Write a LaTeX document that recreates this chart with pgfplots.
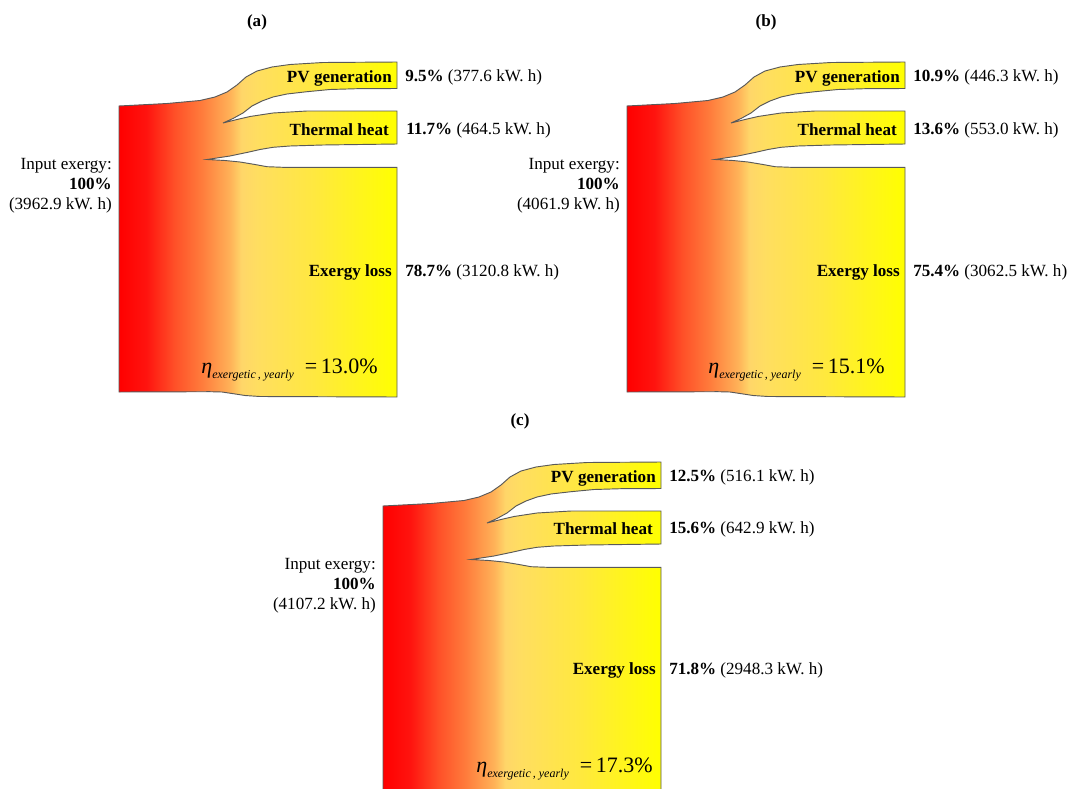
\documentclass[border=0pt]{standalone}
\usepackage{fontspec}
\setmainfont{Liberation Serif}
\usepackage{pgfplots}
\usepackage{pgfplotstable}
\pgfplotsset{compat=1.18}
\pgfplotstableread{
x y
119 250
119 106
167 103.5
200 100.5
215 97
227 92
237 85
246 77
257 71
272 67
290 64.5
323 62.5
397 62
397 88.5
357 88.7
330 89.5
307 91.7
287 94
273 97
262 101
252 106
243 113
233 118.5
223 123
237 119.5
250 116.5
273 113
307 111
397 111
397 144
323 145
290 146
273 147.3
260 149.5
250 151.8
230 156
207 159.5
225 160.5
240 162
255 164.5
267 166.7
283 167.3
397 167.3
397 397
260 396.5
245 395.5
232 393.5
222 392
210 391.7
119 392
119 250
}\shape
\definecolor{s1}{RGB}{255,20,15}
\definecolor{s2}{RGB}{255,80,40}
\definecolor{s3}{RGB}{255,125,60}
\definecolor{s4}{RGB}{255,178,88}
\definecolor{s5}{RGB}{255,214,105}
\definecolor{s6}{RGB}{255,222,96}
\definecolor{s7}{RGB}{255,232,64}
\pgfdeclarehorizontalshading{sankey}{100bp}{color(0bp)=(red); color(25bp)=(red); color(30bp)=(s1); color(35bp)=(s2); color(40bp)=(s3); color(45bp)=(s4); color(47bp)=(s5); color(50bp)=(s6); color(60bp)=(s7); color(75bp)=(yellow); color(100bp)=(yellow)}
\newcommand{\nf}{\fontsize{12.8}{15}\selectfont}
\newcommand{\etalabel}[1]{\fontsize{16.5}{18}\selectfont\textit{η}\raisebox{-0.5ex}{\fontsize{9}{11}\selectfont\textit{exergetic\,, yearly}}\,\,\,=\,#1}
\begin{document}
\begin{tikzpicture}[every node/.style={inner sep=0pt}]
\begin{axis}[x=0.75pt, y=0.75pt, xmin=0, xmax=1068, ymin=0, ymax=789, y dir=reverse,
  scale only axis, axis lines=box, axis line style={draw=none}, ticks=none, clip=true]
% panels
\addplot[no marks, draw=black!65, line width=0.7pt, shading=sankey] table[x=x, y=y] {\shape};
\addplot[no marks, draw=black!65, line width=0.7pt, shading=sankey] table[x expr=\thisrow{x}+508, y=y] {\shape};
\addplot[no marks, draw=black!65, line width=0.7pt, shading=sankey] table[x expr=\thisrow{x}+264, y expr=\thisrow{y}+400] {\shape};
% panel a text
\node[font=\nf\bfseries] at (axis cs:257,22) {(a)};
\node[font=\nf\bfseries, anchor=east] at (axis cs:392,78) {PV generation};
\node[font=\nf\bfseries, anchor=east] at (axis cs:389,130) {Thermal heat};
\node[font=\nf\bfseries, anchor=east] at (axis cs:392,272) {Exergy loss};
\node[font=\nf, anchor=west] at (axis cs:405,77) {\textbf{9.5\%} (377.6 kW. h)};
\node[font=\nf, anchor=west] at (axis cs:406,130) {\textbf{11.7\%} (464.5 kW. h)};
\node[font=\nf, anchor=west] at (axis cs:405,272) {\textbf{78.7\%} (3120.8 kW. h)};
\node[font=\nf, anchor=east, align=right] at (axis cs:112,186) {Input exergy:\\ \textbf{100\%}\\ (3962.9 kW. h)};
\node[anchor=base east] at (axis cs:378,373) {\etalabel{13.0\%}};
% panel b text
\node[font=\nf\bfseries] at (axis cs:766,22) {(b)};
\node[font=\nf\bfseries, anchor=east] at (axis cs:900,78) {PV generation};
\node[font=\nf\bfseries, anchor=east] at (axis cs:897,130) {Thermal heat};
\node[font=\nf\bfseries, anchor=east] at (axis cs:900,272) {Exergy loss};
\node[font=\nf, anchor=west] at (axis cs:913,77) {\textbf{10.9\%} (446.3 kW. h)};
\node[font=\nf, anchor=west] at (axis cs:913,130) {\textbf{13.6\%} (553.0 kW. h)};
\node[font=\nf, anchor=west] at (axis cs:913,272) {\textbf{75.4\%} (3062.5 kW. h)};
\node[font=\nf, anchor=east, align=right] at (axis cs:620,186) {Input exergy:\\ \textbf{100\%}\\ (4061.9 kW. h)};
\node[anchor=base east] at (axis cs:885,373) {\etalabel{15.1\%}};
% panel c text
\node[font=\nf\bfseries] at (axis cs:520,421) {(c)};
\node[font=\nf\bfseries, anchor=east] at (axis cs:656,478) {PV generation};
\node[font=\nf\bfseries, anchor=east] at (axis cs:653,529) {Thermal heat};
\node[font=\nf\bfseries, anchor=east] at (axis cs:656,670) {Exergy loss};
\node[font=\nf, anchor=west] at (axis cs:669,477) {\textbf{12.5\%} (516.1 kW. h)};
\node[font=\nf, anchor=west] at (axis cs:669,529) {\textbf{15.6\%} (642.9 kW. h)};
\node[font=\nf, anchor=west] at (axis cs:669,670) {\textbf{71.8\%} (2948.3 kW. h)};
\node[font=\nf, anchor=east, align=right] at (axis cs:376,586) {Input exergy:\\ \textbf{100\%}\\ (4107.2 kW. h)};
\node[anchor=base east] at (axis cs:653,772) {\etalabel{17.3\%}};
\end{axis}
\end{tikzpicture}
\end{document}
